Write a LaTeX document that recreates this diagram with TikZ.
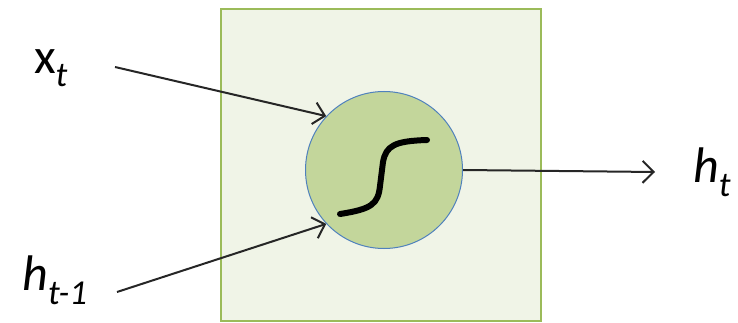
\documentclass[tikz,border=0pt]{standalone}
\usepackage{fontspec}
\setmainfont{Carlito}
\usetikzlibrary{arrows.meta}
\definecolor{boxfill}{HTML}{F0F4E7}
\definecolor{boxline}{HTML}{9BBB59}
\definecolor{cellfill}{HTML}{C3D69B}
\definecolor{cellline}{HTML}{4F81BD}
\tikzset{
  conn/.style={draw=black!85, line width=2pt, -{Straight Barb[length=11pt,width=22pt,line width=2pt]}},
  lab/.style={font=\fontsize{50}{50}\selectfont, inner sep=0pt},
}
\newcommand{\sbs}[1]{\textsubscript{\itshape #1}}
\begin{document}
\begin{tikzpicture}[x=1pt,y=-1pt]
\useasboundingbox (0,0) rectangle (738,323);
\node[draw=boxline, fill=boxfill, line width=2.5pt, minimum width=320pt, minimum height=312pt, inner sep=0pt] (box) at (381,165) {};
\node[circle, draw=cellline, fill=cellfill, line width=1pt, minimum size=157pt, inner sep=0pt] (c) at (384,170) {};
\draw[line width=6pt, line cap=round, line join=round] (340,214) .. controls (372,209) and (378,204) .. (380,186) -- (383,162) .. controls (386,146) and (394,141) .. (427,140);
\node[lab] (xt) at (51,68) {x\sbs{t}};
\node[lab] (hprev) at (55,280) {\itshape h\sbs{t-1}};
\node[lab] (ht) at (712,172) {\itshape h\sbs{t}};
\coordinate (xs) at (115,67);
\coordinate (hs) at (117,292);
\coordinate (out) at (655,172);
\draw[conn] (xs) -- (c.{135+2});
\draw[conn] (hs) -- (c.{225-2});
\draw[conn] (c.east) -- (out);
\end{tikzpicture}
\end{document}
